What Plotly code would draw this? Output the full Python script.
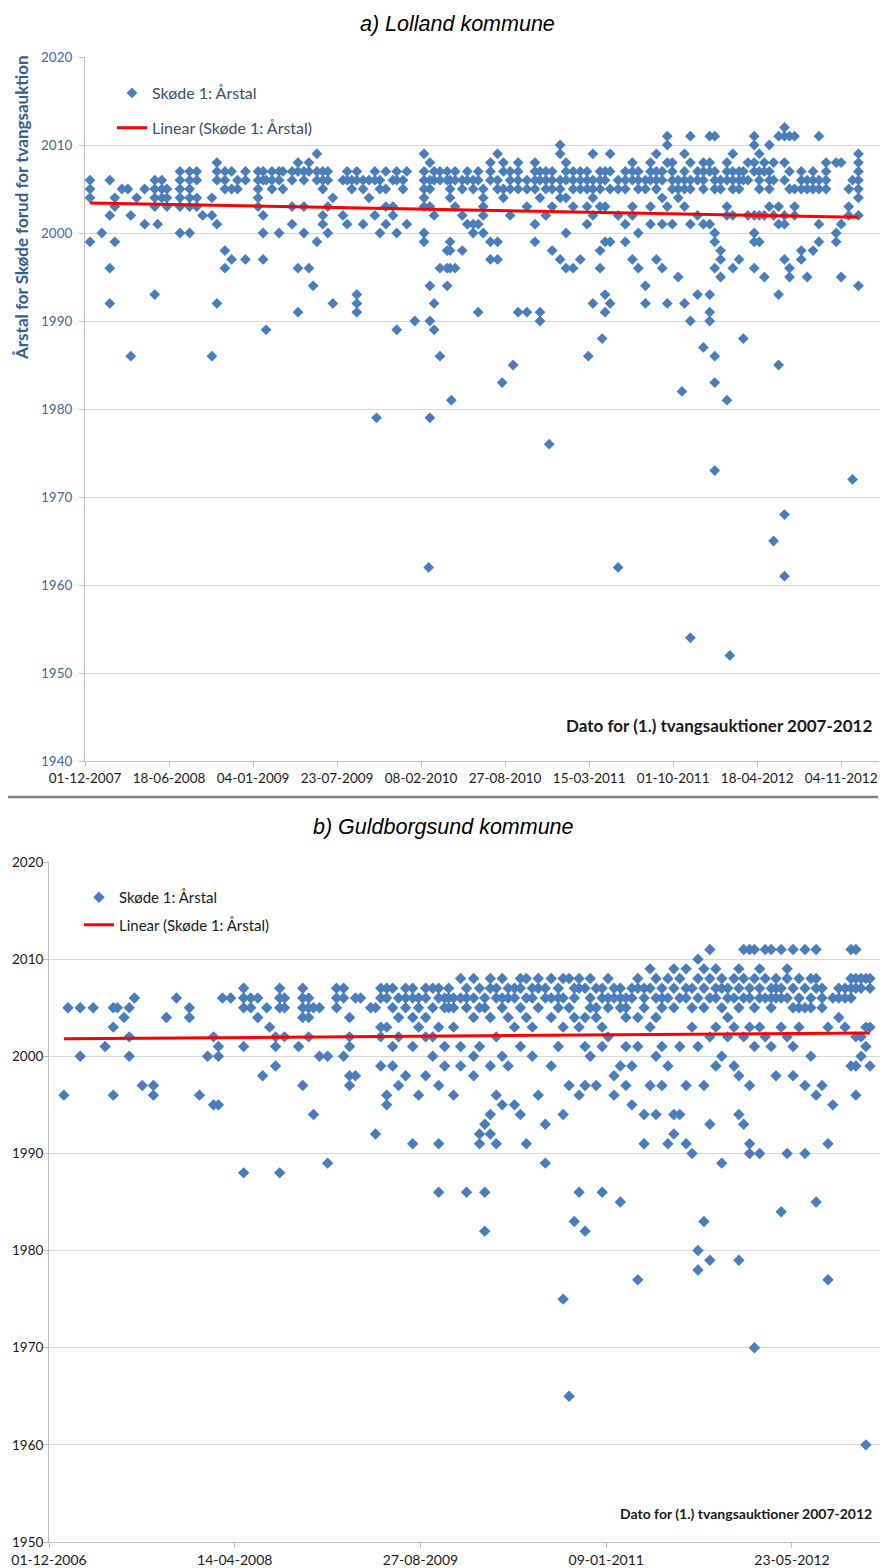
import plotly.graph_objects as go
import pandas as pd

# a) Lolland kommune: (dato for tvangsauktion, [Skøde 1: årstal, ...])
lolland = [
    ("2007-12-13", [2006, 2005, 2004, 1999]),
    ("2008-01-10", [2000]),
    ("2008-01-29", [2006, 2002, 1996, 1992]),
    ("2008-02-10", [2004, 2003, 1999]),
    ("2008-02-27", [2005]),
    ("2008-03-12", [2005]),
    ("2008-03-19", [2002, 1986]),
    ("2008-04-02", [2004]),
    ("2008-04-21", [2005, 2001]),
    ("2008-05-15", [2006, 2005, 2004, 2003, 1993]),
    ("2008-05-22", [2001]),
    ("2008-06-01", [2006, 2005, 2004]),
    ("2008-06-13", [2005, 2004, 2003]),
    ("2008-07-14", [2007, 2006, 2005, 2004, 2003, 2000]),
    ("2008-08-06", [2007, 2006, 2005, 2004, 2003, 2000]),
    ("2008-08-23", [2007, 2006, 2004, 2003]),
    ("2008-09-06", [2002]),
    ("2008-09-28", [2004, 2002, 1986]),
    ("2008-10-10", [2008, 2007, 2006, 2001, 1992]),
    ("2008-10-29", [2007, 2006, 2005, 1998, 1996]),
    ("2008-11-14", [2007, 2005, 1997]),
    ("2008-11-28", [2006, 2005]),
    ("2008-12-17", [2007, 2006, 1997]),
    ("2009-01-16", [2007, 2006, 2005, 2004, 2003]),
    ("2009-01-28", [2007, 2006, 2002, 2000, 1997]),
    ("2009-02-04", [2006, 1989]),
    ("2009-02-18", [2007, 2006, 2005]),
    ("2009-03-07", [2007, 2006, 2000]),
    ("2009-03-16", [2007, 2005]),
    ("2009-04-07", [2007, 2006, 2003, 2001]),
    ("2009-04-21", [2008, 2007, 1996, 1991]),
    ("2009-05-05", [2007, 2006, 2003, 2000]),
    ("2009-05-17", [2008, 2007, 1996]),
    ("2009-05-27", [1994]),
    ("2009-06-05", [2009, 2007, 2006, 1999]),
    ("2009-06-19", [2007, 2006, 2005, 2002, 2001]),
    ("2009-07-01", [2007, 2006, 2003, 2000]),
    ("2009-07-13", [2004, 1992]),
    ("2009-08-06", [2006, 2002]),
    ("2009-08-16", [2007, 2006, 2001]),
    ("2009-08-27", [2006, 2005]),
    ("2009-09-08", [2007, 2006, 1993, 1992, 1991]),
    ("2009-09-23", [2006, 2005, 2001]),
    ("2009-10-07", [2006, 2004]),
    ("2009-10-21", [2007, 2006, 2002]),
    ("2009-10-25", [1979]),
    ("2009-11-02", [2006, 2005, 2000]),
    ("2009-11-16", [2007, 2005, 2003, 2001]),
    ("2009-12-03", [2006, 2003, 2002]),
    ("2009-12-12", [2007, 2006, 2000, 1989]),
    ("2009-12-27", [2006, 2005]),
    ("2010-01-05", [2007, 2001]),
    ("2010-01-24", [1990]),
    ("2010-02-15", [2009, 2007, 2006, 2005, 2004, 2003, 2000, 1999]),
    ("2010-02-26", [1962]),
    ("2010-03-01", [2008, 2006, 2005, 2003, 1994, 1990, 1979]),
    ("2010-03-11", [2007, 2006, 2002, 1992, 1989]),
    ("2010-03-25", [2007, 2006, 1996, 1986]),
    ("2010-04-11", [2007, 2006, 1998, 1996, 1994]),
    ("2010-04-18", [2006, 2005, 2004, 1999, 1998, 1996]),
    ("2010-04-21", [1981]),
    ("2010-04-30", [2007, 2006, 2003, 1996]),
    ("2010-05-17", [2006, 2005, 2002, 1998]),
    ("2010-05-29", [2007, 2006, 2001]),
    ("2010-06-12", [2006, 2005, 2001, 2000]),
    ("2010-06-24", [2007, 2006, 2001, 1991]),
    ("2010-07-06", [2005, 2004, 2003, 2002, 2000]),
    ("2010-07-23", [2008, 2007, 2006, 1999, 1997]),
    ("2010-08-09", [2009, 2006, 2005, 1999, 1997]),
    ("2010-08-20", [1983]),
    ("2010-08-23", [2008, 2007, 2005, 2004]),
    ("2010-09-08", [2007, 2006, 2005, 2002]),
    ("2010-09-15", [1985]),
    ("2010-09-27", [2008, 2007, 2006, 2005, 1991]),
    ("2010-10-18", [2006, 2005, 2003, 1991]),
    ("2010-11-06", [2008, 2007, 2006, 2005, 2001, 1999]),
    ("2010-11-18", [2007, 2006, 2004, 1991, 1990]),
    ("2010-12-02", [2007, 2006, 2005, 2002]),
    ("2010-12-10", [1976]),
    ("2010-12-17", [2007, 2006, 2005, 2003, 1998]),
    ("2011-01-05", [2010, 2009, 2006, 2005, 2004, 1997]),
    ("2011-01-19", [2008, 2007, 2006, 2004, 2000, 1996]),
    ("2011-02-05", [2007, 2006, 2005, 2003, 1996]),
    ("2011-02-22", [2007, 2006, 2005, 1997]),
    ("2011-03-10", [2007, 2006, 2005, 2003, 2001]),
    ("2011-03-13", [1986]),
    ("2011-03-24", [2009, 2006, 2005, 2004, 2002, 1992]),
    ("2011-04-10", [2007, 2006, 2005, 2003, 1998, 1996]),
    ("2011-04-15", [1988]),
    ("2011-04-22", [2007, 2006, 2003, 1999, 1993, 1991]),
    ("2011-05-04", [2009, 2007, 2005, 1999, 1992]),
    ("2011-05-23", [2006, 2005, 2002, 1962]),
    ("2011-06-09", [2007, 2006, 2005, 2001, 1999]),
    ("2011-06-26", [2008, 2007, 2006, 2003, 2002, 1997]),
    ("2011-07-10", [2007, 2006, 2005, 2000, 1996]),
    ("2011-07-27", [2006, 2005, 1994, 1992]),
    ("2011-08-08", [2008, 2007, 2006, 2003, 2001]),
    ("2011-08-22", [2009, 2007, 2006, 2005, 1997]),
    ("2011-09-05", [2007, 2006, 2004, 2001, 1996]),
    ("2011-09-17", [2011, 2010, 2008, 2003, 1992]),
    ("2011-09-29", [2008, 2007, 2006, 2005, 2001]),
    ("2011-10-13", [2006, 2005, 2004, 1995]),
    ("2011-10-22", [1982]),
    ("2011-10-28", [2009, 2007, 2006, 2005, 2003, 1992]),
    ("2011-11-11", [2011, 2008, 2006, 2005, 2001, 1990, 1954]),
    ("2011-11-28", [2007, 2006, 2002, 1993]),
    ("2011-12-12", [2008, 2007, 2006, 2005, 2001, 1987]),
    ("2011-12-27", [2011, 2008, 2007, 2001, 1993, 1991, 1990]),
    ("2012-01-08", [2011, 2007, 2006, 2005, 2000, 1999, 1996, 1986, 1983, 1973]),
    ("2012-01-22", [2006, 2005, 1998, 1997, 1995]),
    ("2012-02-06", [2008, 2007, 2006, 2003, 2002, 1981]),
    ("2012-02-13", [1952]),
    ("2012-02-20", [2009, 2007, 2006, 2005, 2002, 1996]),
    ("2012-03-06", [2007, 2006, 2005, 1997]),
    ("2012-03-16", [2007, 2006, 1988]),
    ("2012-03-27", [2008, 2006, 2002]),
    ("2012-04-11", [2011, 2010, 2008, 2007, 2002, 2000, 1999, 1996]),
    ("2012-04-23", [2009, 2007, 2006, 2005, 2002, 1999]),
    ("2012-05-05", [2008, 2007, 2002, 1995]),
    ("2012-05-17", [2010, 2007, 2006, 2005, 2003]),
    ("2012-05-27", [2008, 2006, 2002, 1965]),
    ("2012-06-08", [2011, 2003, 2001, 1993, 1985]),
    ("2012-06-22", [2012, 2011, 2008, 2006, 2002, 2001, 1997, 1968, 1961]),
    ("2012-07-04", [2011, 2007, 2005, 1996, 1995]),
    ("2012-07-16", [2011, 2005, 2003, 2002]),
    ("2012-08-01", [2007, 2006, 2005, 1998, 1997]),
    ("2012-08-15", [2006, 2005, 1995]),
    ("2012-08-29", [2007, 2006, 2005, 1998]),
    ("2012-09-12", [2011, 2006, 2005, 2001, 1999]),
    ("2012-09-29", [2008, 2007, 2006, 2005]),
    ("2012-10-23", [2008, 2000, 1999]),
    ("2012-11-04", [2008, 2001, 1995]),
    ("2012-11-22", [2005, 2003, 2002]),
    ("2012-12-01", [2006, 1972]),
    ("2012-12-15", [2009, 2008, 2007, 2006, 2005, 2004, 2002, 1994]),
]
lolland_trend_dates = ["2007-12-13", "2012-12-15"]
lolland_trend_years = [2003.4, 2001.8]

# b) Guldborgsund kommune
guldborgsund = [
    ("2007-01-10", [1996]),
    ("2007-01-21", [2005]),
    ("2007-02-23", [2005, 2000]),
    ("2007-03-30", [2005]),
    ("2007-05-01", [2001]),
    ("2007-05-23", [2005, 2003, 1996]),
    ("2007-06-03", [2005]),
    ("2007-06-21", [2004]),
    ("2007-07-05", [2005, 2002, 2000]),
    ("2007-07-19", [2006]),
    ("2007-08-09", [1997]),
    ("2007-09-08", [1997, 1996]),
    ("2007-10-13", [2004]),
    ("2007-11-09", [2006]),
    ("2007-12-14", [2005, 2004]),
    ("2008-01-10", [1996]),
    ("2008-02-01", [2000]),
    ("2008-02-17", [2002, 1995]),
    ("2008-03-01", [2001, 2000, 1995]),
    ("2008-03-12", [2006]),
    ("2008-04-03", [2006]),
    ("2008-05-08", [2007, 2006, 2005, 2001, 1988]),
    ("2008-05-27", [2006, 2005]),
    ("2008-06-15", [2006, 2004]),
    ("2008-06-28", [1998]),
    ("2008-07-09", [2005]),
    ("2008-07-17", [2003]),
    ("2008-08-02", [2002, 2001, 1999]),
    ("2008-08-13", [2007, 2006, 2005, 1988]),
    ("2008-08-26", [2006, 2005, 2002]),
    ("2008-10-03", [2001]),
    ("2008-10-14", [2007, 2006, 2005, 2004, 1997]),
    ("2008-10-30", [2006, 2005, 2004, 2002]),
    ("2008-11-12", [2005, 1994]),
    ("2008-11-28", [2005, 2000]),
    ("2008-12-20", [2000, 1989]),
    ("2009-01-13", [2007, 2006, 2005]),
    ("2009-02-01", [2007, 2006, 2000]),
    ("2009-02-17", [2004, 2002, 2001, 1998, 1997]),
    ("2009-03-05", [2006, 1998]),
    ("2009-03-19", [2006]),
    ("2009-04-15", [2005]),
    ("2009-04-28", [2005, 1992]),
    ("2009-05-12", [2007, 2006, 2003, 2002, 1999]),
    ("2009-05-28", [2007, 2006, 2003, 1996, 1995]),
    ("2009-06-13", [2007, 2005, 2001, 1999]),
    ("2009-06-29", [2006, 2004, 2002, 1997]),
    ("2009-07-18", [2007, 2006, 2005, 1998]),
    ("2009-08-06", [2007, 2006, 2004, 2001, 1991]),
    ("2009-08-22", [2006, 2005, 2003, 1996]),
    ("2009-09-10", [2007, 2006, 2004, 2002, 1998]),
    ("2009-09-29", [2007, 2005, 2002, 2000]),
    ("2009-10-15", [2007, 2006, 2003, 1997, 1991, 1986]),
    ("2009-10-31", [2006, 2005, 2001, 1999]),
    ("2009-11-11", [2007, 2006, 2005]),
    ("2009-11-24", [2006, 2005, 2003, 1996]),
    ("2009-12-13", [2008, 2006, 2001, 1999]),
    ("2009-12-29", [2007, 2006, 2005, 1986]),
    ("2010-01-17", [2008, 2006, 2004, 2000, 1998]),
    ("2010-02-02", [2007, 2005, 2001, 1992, 1991]),
    ("2010-02-16", [2006, 2005, 1993, 1986, 1982]),
    ("2010-03-03", [2008, 2007, 2004, 1999, 1994, 1992]),
    ("2010-03-19", [2007, 2006, 2002, 1996, 1991]),
    ("2010-04-04", [2008, 2006, 2005, 2000, 1995]),
    ("2010-04-20", [2007, 2006, 2004, 1999]),
    ("2010-05-07", [2007, 2006, 2003, 1995]),
    ("2010-05-23", [2008, 2007, 2005, 2001, 1994]),
    ("2010-06-08", [2008, 2006, 2004, 1991]),
    ("2010-06-24", [2007, 2006, 2003, 2000]),
    ("2010-07-10", [2008, 2007, 2005, 1996]),
    ("2010-07-29", [2007, 2006, 1993, 1989]),
    ("2010-08-14", [2008, 2006, 2004, 1999]),
    ("2010-09-02", [2007, 2006, 2005, 2001]),
    ("2010-09-15", [2008, 2006, 2003, 1994, 1975]),
    ("2010-10-01", [2008, 2005, 1997, 1965]),
    ("2010-10-15", [2007, 2006, 2004, 1983]),
    ("2010-10-28", [2008, 2007, 2003, 1996, 1986]),
    ("2010-11-13", [2007, 2004, 2001, 1997, 1982]),
    ("2010-11-27", [2008, 2006, 2005, 2000]),
    ("2010-12-13", [2007, 2005, 2004, 1997]),
    ("2010-12-29", [2007, 2006, 2003, 2001, 1986]),
    ("2011-01-14", [2008, 2006, 2005, 2002]),
    ("2011-01-30", [2007, 2006, 1998, 1996]),
    ("2011-02-16", [2007, 2006, 2005, 1999, 1985]),
    ("2011-03-03", [2006, 2005, 2004, 2001, 1997]),
    ("2011-03-19", [2007, 2006, 1999, 1995]),
    ("2011-04-04", [2008, 2007, 2004, 2001, 1977]),
    ("2011-04-21", [2007, 2006, 2005, 1994, 1991]),
    ("2011-05-07", [2009, 2007, 2003, 1997]),
    ("2011-05-23", [2008, 2006, 2004, 2000, 1994]),
    ("2011-06-08", [2007, 2006, 2005, 2001, 1997]),
    ("2011-06-24", [2008, 2006, 1999, 1991]),
    ("2011-07-10", [2009, 2007, 2005, 1994, 1992]),
    ("2011-07-26", [2008, 2006, 2001, 1994]),
    ("2011-08-12", [2009, 2007, 2006, 1997, 1991]),
    ("2011-08-28", [2007, 2005, 2003, 1990]),
    ("2011-09-13", [2010, 2008, 2006, 2001, 1980, 1978]),
    ("2011-09-29", [2009, 2007, 2005, 1997, 1983]),
    ("2011-10-15", [2011, 2008, 2006, 2002, 1993, 1979]),
    ("2011-10-31", [2009, 2007, 2006, 2003, 1999]),
    ("2011-11-16", [2008, 2007, 2005, 2000, 1989]),
    ("2011-12-02", [2007, 2006, 2004, 2002]),
    ("2011-12-19", [2008, 2006, 2003, 1999]),
    ("2012-01-01", [2009, 2007, 2005, 1998, 1994, 1979]),
    ("2012-01-14", [2011, 2008, 2006, 2002, 1993]),
    ("2012-01-30", [2011, 2007, 2006, 2003, 1997, 1991, 1990]),
    ("2012-02-12", [2011, 2008, 2005, 2001, 1970]),
    ("2012-02-26", [2009, 2007, 2006, 2003, 1990]),
    ("2012-03-12", [2011, 2008, 2006, 2002]),
    ("2012-03-28", [2011, 2007, 2006, 2005, 2001]),
    ("2012-04-10", [2008, 2007, 2006, 1998]),
    ("2012-04-24", [2011, 2007, 2006, 2003, 1984]),
    ("2012-05-10", [2009, 2008, 2006, 2002, 1990]),
    ("2012-05-26", [2011, 2007, 2005, 2001, 1998]),
    ("2012-06-11", [2008, 2006, 2005, 2003]),
    ("2012-06-27", [2011, 2007, 2005, 1997, 1990]),
    ("2012-07-13", [2008, 2006, 2005, 2000]),
    ("2012-07-27", [2011, 2008, 2007, 1996, 1985]),
    ("2012-08-12", [2007, 2006, 2005, 1997]),
    ("2012-08-28", [2003, 1991, 1977]),
    ("2012-09-10", [2006, 1995]),
    ("2012-09-26", [2007, 2006, 2004]),
    ("2012-10-13", [2007, 2006, 2003]),
    ("2012-10-29", [2011, 2008, 2007, 2006, 1999]),
    ("2012-11-11", [2011, 2008, 2007, 2002, 1999, 1996]),
    ("2012-11-25", [2008, 2007, 2002, 2000]),
    ("2012-12-08", [2008, 2003, 2001, 1960]),
    ("2012-12-19", [2008, 2007, 2003, 1999]),
]
guldborgsund_trend_dates = ["2007-01-10", "2012-12-19"]
guldborgsund_trend_years = [2001.8, 2002.4]

# the page body has an 8 px margin, so the figure is drawn 8 px smaller
OFF = 8
W, H = 891 - OFF, 1568 - OFF
FONT = "Lato"
BLUE = "#4a7ebb"


def flatten(groups):
    xs, ys = [], []
    for d, years in groups:
        xs += [d] * len(years)
        ys += years
    return pd.to_datetime(xs), ys


def px_x(p):
    return (p - OFF) / W


def px_y(p):
    return 1 - (p - OFF) / H


fig = go.Figure()

lx, ly = flatten(lolland)
fig.add_trace(go.Scatter(x=lx, y=ly, mode="markers", name="Skøde 1: Årstal",
                         marker=dict(symbol="diamond", size=8.3, color=BLUE),
                         xaxis="x", yaxis="y", legend="legend", legendgroup="a1"))
fig.add_trace(go.Scatter(x=pd.to_datetime(lolland_trend_dates), y=lolland_trend_years,
                         mode="lines", name="Linear (Skøde 1: Årstal)",
                         line=dict(color="#ff0000", width=3),
                         xaxis="x", yaxis="y", legend="legend", legendgroup="a2"))

gx, gy = flatten(guldborgsund)
fig.add_trace(go.Scatter(x=gx, y=gy, mode="markers", name="Skøde 1: Årstal",
                         marker=dict(symbol="diamond", size=8.8, color=BLUE),
                         xaxis="x2", yaxis="y2", legend="legend2", legendgroup="b1"))
fig.add_trace(go.Scatter(x=pd.to_datetime(guldborgsund_trend_dates), y=guldborgsund_trend_years,
                         mode="lines", name="Linear (Skøde 1: Årstal)",
                         line=dict(color="#ff0000", width=3),
                         xaxis="x2", yaxis="y2", legend="legend2", legendgroup="b2"))

axis_common = dict(showline=True, linecolor="#bfbfbf", linewidth=1, ticks="outside",
                   ticklen=5, tickcolor="#bfbfbf", zeroline=False, fixedrange=True,
                   automargin=False)

fig.update_layout(
    width=W, height=H,
    margin=dict(l=0, r=0, t=0, b=0, autoexpand=False),
    plot_bgcolor="white", paper_bgcolor="white",
    font=dict(family=FONT, color="#1a1a1a"),
    xaxis=dict(domain=[px_x(85), px_x(879)], anchor="y", type="date",
               range=["2007-12-01", "2013-02-02"], tick0="2007-12-01",
               dtick=200 * 86400000, tickformat="%d-%m-%Y", showgrid=False,
               tickfont=dict(size=13.5, color="#1a1a1a"), **axis_common),
    yaxis=dict(domain=[px_y(761), px_y(57)], anchor="x", range=[1940, 2020], dtick=10,
               showgrid=True, gridcolor="#d9d9d9", ticklabelstandoff=4,
               tickfont=dict(size=13.5, color="#46679e"), **axis_common),
    xaxis2=dict(domain=[px_x(49), px_x(880)], anchor="y2", type="date",
                range=["2006-12-01", "2013-01-15"], tick0="2006-12-01",
                dtick=500 * 86400000, tickformat="%d-%m-%Y", showgrid=False,
                tickfont=dict(size=14, color="#1a1a1a"), **axis_common),
    yaxis2=dict(domain=[px_y(1542), px_y(862)], anchor="x2", range=[1950, 2020], dtick=10,
                showgrid=True, gridcolor="#d9d9d9", ticklabelstandoff=-3,
                tickfont=dict(size=13.5, color="#1a1a1a"), **axis_common),
    legend=dict(x=px_x(112), y=px_y(76), xanchor="left", yanchor="top",
                bgcolor="rgba(0,0,0,0)", font=dict(size=16, color="#3b4e6d", family=FONT),
                traceorder="grouped", tracegroupgap=11),
    legend2=dict(x=px_x(79), y=px_y(881), xanchor="left", yanchor="top",
                 bgcolor="rgba(0,0,0,0)", font=dict(size=15, color="#1a1a1a", family=FONT),
                 traceorder="grouped", tracegroupgap=5),
    showlegend=True,
)

annotations = [
    dict(text="<i>a) Lolland kommune</i>", x=px_x(457), y=px_y(24),
         font=dict(family="Liberation Sans", size=21.5, color="black")),
    dict(text="<i>b) Guldborgsund kommune</i>", x=px_x(443), y=px_y(827),
         font=dict(family="Liberation Sans", size=21.5, color="black")),
    dict(text="<b>Årstal for Skøde forud for tvangsauktion</b>", x=px_x(22), y=px_y(208),
         textangle=-90, font=dict(family=FONT, size=17, color="#365f91")),
    dict(text="<b>Dato for (1.) tvangsauktioner 2007-2012</b>", x=px_x(874), y=px_y(726),
         xanchor="right", font=dict(family=FONT, size=17, color="#1a1a1a")),
    dict(text="<b>Dato for (1.) tvangsauktioner 2007-2012</b>", x=px_x(874), y=px_y(1513),
         xanchor="right", font=dict(family=FONT, size=14, color="#1a1a1a")),
]
for a in annotations:
    a.update(xref="paper", yref="paper", showarrow=False)
    a.setdefault("xanchor", "center")
    a.setdefault("yanchor", "middle")
fig.update_layout(annotations=annotations)

# separator between the two panels
fig.add_shape(type="line", xref="paper", yref="paper", x0=0, x1=px_x(878),
              y0=px_y(797), y1=px_y(797), line=dict(color="#808080", width=2.5))

fig.write_html("out.html")
